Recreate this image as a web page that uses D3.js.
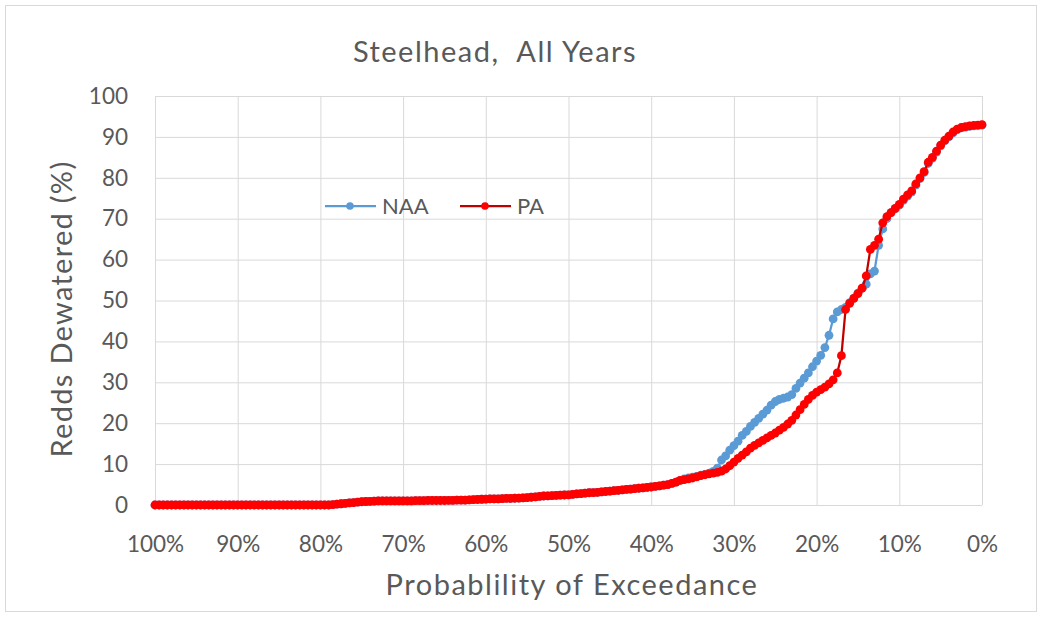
<!DOCTYPE html>
<html>
<head>
<meta charset="utf-8">
<script src="https://cdn.jsdelivr.net/npm/d3@7"></script>
<style>
  html, body { margin: 0; padding: 0; background: #fff; }
  svg { display: block; }
  text { font-family: Lato, "Open Sans", sans-serif; fill: #595959; }
</style>
</head>
<body>
<svg id="chart" width="1039" height="619"></svg>
<script>
// ---------- DATA ----------
const title = "Steelhead,  All Years";
const xTitle = "Probablility of Exceedance";
const yTitle = "Redds Dewatered (%)";
const seriesNames = ["NAA", "PA"];
const xTickValues = [100, 90, 80, 70, 60, 50, 40, 30, 20, 10, 0];
const yTickValues = [0, 10, 20, 30, 40, 50, 60, 70, 80, 90, 100];

// probability of exceedance (%) for each ranked point
const exceedance = [
  100, 99.5, 99, 98.5, 98, 97.5, 97, 96.5, 96, 95.5, 95, 94.5, 94, 93.5, 93, 92.5, 92, 91.5, 91, 90.5,
  90, 89.5, 89, 88.5, 88, 87.5, 87, 86.5, 86, 85.5, 85, 84.5, 84, 83.5, 83, 82.5, 82, 81.5, 81, 80.5,
  80, 79.5, 79, 78.5, 78, 77.5, 77, 76.5, 76, 75.5, 75, 74.5, 74, 73.5, 73, 72.5, 72, 71.5, 71, 70.5,
  70, 69.5, 69, 68.5, 68, 67.5, 67, 66.5, 66, 65.5, 65, 64.5, 64, 63.5, 63, 62.5, 62, 61.5, 61, 60.5,
  60, 59.5, 59, 58.5, 58, 57.5, 57, 56.5, 56, 55.5, 55, 54.5, 54, 53.5, 53, 52.5, 52, 51.5, 51, 50.5,
  50, 49.5, 49, 48.5, 48, 47.5, 47, 46.5, 46, 45.5, 45, 44.5, 44, 43.5, 43, 42.5, 42, 41.5, 41, 40.5,
  40, 39.5, 39, 38.5, 38, 37.5, 37, 36.5, 36, 35.5, 35, 34.5, 34, 33.5, 33, 32.5, 32, 31.5, 31, 30.5,
  30, 29.5, 29, 28.5, 28, 27.5, 27, 26.5, 26, 25.5, 25, 24.5, 24, 23.5, 23, 22.5, 22, 21.5, 21, 20.5,
  20, 19.5, 19, 18.5, 18, 17.5, 17, 16.5, 16, 15.5, 15, 14.5, 14, 13.5, 13, 12.5, 12, 11.5, 11, 10.5,
  10, 9.5, 9, 8.5, 8, 7.5, 7, 6.5, 6, 5.5, 5, 4.5, 4, 3.5, 3, 2.5, 2, 1.5, 1, 0.5,
  0
];

// Redds dewatered (%) - NAA
const naaValues = [
  0, 0, 0, 0, 0, 0, 0, 0, 0, 0, 0, 0, 0, 0, 0, 0, 0, 0, 0, 0,
  0, 0, 0, 0, 0, 0, 0, 0, 0, 0, 0, 0, 0, 0, 0, 0, 0, 0, 0, 0,
  0, 0, 0, 0.1, 0.2, 0.3, 0.4, 0.5, 0.6, 0.7, 0.8, 0.85, 0.9, 0.95, 1.0, 1.0, 1.0, 1.0, 1.0, 1.0,
  1.0, 1.0, 1.0, 1.05, 1.05, 1.05, 1.1, 1.1, 1.1, 1.1, 1.1, 1.15, 1.15, 1.2, 1.2, 1.2, 1.25, 1.3, 1.35, 1.4,
  1.45, 1.5, 1.5, 1.5, 1.55, 1.6, 1.6, 1.65, 1.7, 1.75, 1.8, 1.9, 2.0, 2.1, 2.2, 2.25, 2.3, 2.35, 2.4, 2.45,
  2.5, 2.6, 2.7, 2.8, 2.9, 3.0, 3.05, 3.1, 3.2, 3.3, 3.4, 3.5, 3.6, 3.7, 3.8, 3.9, 4.0, 4.1, 4.2, 4.3,
  4.4, 4.55, 4.7, 4.85, 5.0, 5.3, 5.6, 6.0, 6.4, 6.6, 6.8, 7.0, 7.3, 7.5, 7.8, 8.2, 9.0, 11.0, 12.0, 13.4,
  14.5, 15.6, 17.0, 18.0, 19.2, 20.2, 21.2, 22.2, 23.2, 24.4, 25.3, 25.8, 26.1, 26.4, 27.0, 28.5, 29.8, 31.0, 32.3, 33.8,
  35.2, 36.6, 38.5, 41.5, 45.5, 47.2, 47.8, 48.3, 49.5, 50.6, 51.8, 53.0, 54.0, 56.5, 57.2, 63.5, 67.5, 70.0, 71.5, 72.4,
  73.3, 74.5, 75.5, 76.5, 78.2, 79.8, 81.3, 83.5, 84.8, 86.3, 87.8, 89.0, 90.0, 91.0, 91.8, 92.2, 92.4, 92.6, 92.7, 92.8,
  92.9
];

// Redds dewatered (%) - PA
const paValues = [
  0, 0, 0, 0, 0, 0, 0, 0, 0, 0, 0, 0, 0, 0, 0, 0, 0, 0, 0, 0,
  0, 0, 0, 0, 0, 0, 0, 0, 0, 0, 0, 0, 0, 0, 0, 0, 0, 0, 0, 0,
  0, 0, 0, 0.1, 0.2, 0.3, 0.4, 0.5, 0.6, 0.7, 0.8, 0.85, 0.9, 0.95, 1.0, 1.0, 1.0, 1.0, 1.0, 1.0,
  1.0, 1.0, 1.0, 1.05, 1.05, 1.05, 1.1, 1.1, 1.1, 1.1, 1.1, 1.15, 1.15, 1.2, 1.2, 1.2, 1.25, 1.3, 1.35, 1.4,
  1.45, 1.5, 1.5, 1.5, 1.55, 1.6, 1.6, 1.65, 1.7, 1.75, 1.8, 1.9, 2.0, 2.1, 2.2, 2.25, 2.3, 2.35, 2.4, 2.45,
  2.5, 2.6, 2.7, 2.8, 2.9, 3.0, 3.05, 3.1, 3.2, 3.3, 3.4, 3.5, 3.6, 3.7, 3.8, 3.9, 4.0, 4.1, 4.2, 4.3,
  4.4, 4.55, 4.7, 4.85, 5.0, 5.3, 5.6, 6.0, 6.2, 6.4, 6.6, 6.9, 7.2, 7.4, 7.6, 7.8, 8.0, 8.3, 8.8, 9.6,
  10.5, 11.4, 12.2, 13.0, 13.9, 14.6, 15.2, 15.8, 16.4, 17.0, 17.6, 18.3, 19.0, 19.8, 20.7, 22.0, 23.3, 24.6, 25.8, 26.8,
  27.6, 28.2, 28.8, 29.6, 30.6, 32.3, 36.5, 47.8, 49.3, 50.5, 51.7, 53.0, 56.0, 62.5, 63.5, 65.0, 69.0, 70.5, 71.5, 72.5,
  73.5, 74.8, 75.8, 76.8, 78.5, 80.0, 81.5, 83.8, 85.0, 86.5, 88.0, 89.2, 90.2, 91.2, 91.9, 92.3, 92.5, 92.7, 92.8, 92.9,
  93.0
];

const seriesColors = { NAA: { line: "#5b9bd5", marker: "#5b9bd5" }, PA: { line: "#c00000", marker: "#ff0000" } };

// ---------- CHART ----------
const svg = d3.select("#chart");
const plot = { left: 155, right: 982, top: 96, bottom: 505 };

if (exceedance.length !== naaValues.length || exceedance.length !== paValues.length) {
  svg.append("text").attr("x", 20).attr("y", 30).style("fill", "red")
    .text("length mismatch " + exceedance.length + " " + naaValues.length + " " + paValues.length);
}

svg.append("rect").attr("x", 5.5).attr("y", 5.5).attr("width", 1031).attr("height", 606)
  .attr("fill", "#fff").attr("stroke", "#d9d9d9").attr("stroke-width", 1);

const x = d3.scaleLinear().domain([100, 0]).range([plot.left, plot.right]);
const y = d3.scaleLinear().domain([0, 100]).range([plot.bottom, plot.top]);

// gridlines
svg.append("g").attr("transform", `translate(0,${plot.bottom})`)
  .call(d3.axisBottom(x).tickValues(xTickValues).tickSize(-(plot.bottom - plot.top)).tickFormat(""))
  .call(g => g.select(".domain").remove())
  .call(g => g.selectAll("line").attr("stroke", "#d9d9d9"));
svg.append("g").attr("transform", `translate(${plot.left},0)`)
  .call(d3.axisLeft(y).tickValues(yTickValues).tickSize(-(plot.right - plot.left)).tickFormat(""))
  .call(g => g.select(".domain").remove())
  .call(g => g.selectAll("line").attr("stroke", "#d9d9d9"));

// axis labels
svg.append("g").attr("transform", `translate(0,${plot.bottom})`)
  .call(d3.axisBottom(x).tickValues(xTickValues).tickSize(0).tickPadding(31).tickFormat(d => d + "%"))
  .call(g => g.select(".domain").remove())
  .call(g => g.selectAll("text").style("font-size", "22.5px").style("font-family", "Lato").attr("fill", "#595959"));
svg.append("g").attr("transform", `translate(${plot.left},0)`)
  .call(d3.axisLeft(y).tickValues(yTickValues).tickSize(0).tickPadding(27))
  .call(g => g.select(".domain").remove())
  .call(g => g.selectAll("text").style("font-size", "22.5px").style("font-family", "Lato").attr("fill", "#595959"));

// series
const series = [
  { name: "NAA", values: naaValues },
  { name: "PA", values: paValues }
];
const line = d3.line().x(d => x(d[0])).y(d => y(d[1]));
series.forEach(s => {
  const pts = exceedance.map((p, i) => [p, s.values[i]]);
  const g = svg.append("g");
  g.append("path").datum(pts).attr("d", line).attr("fill", "none")
    .attr("stroke", seriesColors[s.name].line).attr("stroke-width", 2.25);
  g.selectAll("circle").data(pts).join("circle")
    .attr("cx", d => x(d[0])).attr("cy", d => y(d[1])).attr("r", 4.4)
    .attr("fill", seriesColors[s.name].marker);
});

// legend
const legendPos = [{ x: 325, y: 206 }, { x: 460, y: 206 }];
series.forEach((s, i) => {
  const p = legendPos[i];
  svg.append("line").attr("x1", p.x).attr("x2", p.x + 51).attr("y1", p.y).attr("y2", p.y)
    .attr("stroke", seriesColors[s.name].line).attr("stroke-width", 2.25);
  svg.append("circle").attr("cx", p.x + 25).attr("cy", p.y).attr("r", 3.8).attr("fill", seriesColors[s.name].marker);
  svg.append("text").attr("x", p.x + 57).attr("y", p.y + 8).style("font-size", "22px").text(s.name);
});

// titles
svg.append("text").attr("x", 495).attr("y", 62).attr("text-anchor", "middle")
  .style("font-size", "29px").style("letter-spacing", "1.5px").attr("xml:space", "preserve").text(title);
svg.append("text").attr("x", 572).attr("y", 595).attr("text-anchor", "middle")
  .style("font-size", "29px").style("letter-spacing", "1.5px").text(xTitle);
svg.append("text").attr("transform", `translate(72,309) rotate(-90)`).attr("text-anchor", "middle")
  .style("font-size", "29px").style("letter-spacing", "1.3px").text(yTitle);
</script>
</body>
</html>
